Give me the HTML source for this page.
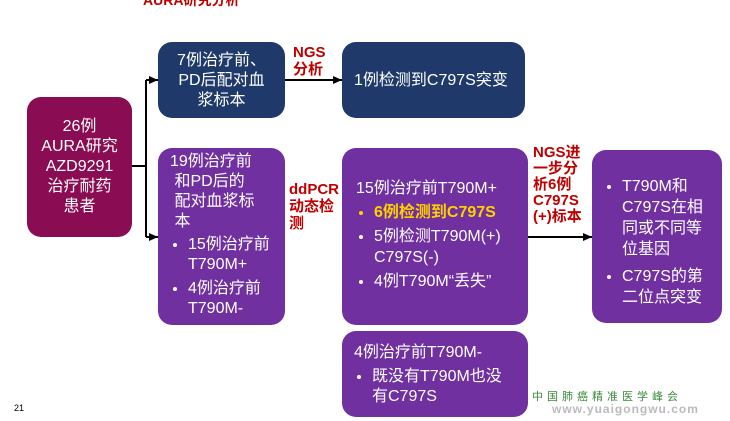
<!DOCTYPE html>
<html><head><meta charset="utf-8"><style>
body{margin:0;width:730px;height:421px;background:#fff;position:relative;overflow:hidden;font-family:"Liberation Sans","Noto Sans CJK SC",sans-serif;}
.b{position:absolute;border-radius:14px;color:#fff;font-size:16px;line-height:20px;box-sizing:border-box;}
.n{background:#1f3a6a;}
.p{background:#7030a0;}
.m{background:#8a0c52;}
.r{position:absolute;color:#c00000;font-weight:bold;font-size:14px;line-height:17px;}
ul{margin:0;padding:0 0 0 18px;}
li{margin:0;}
</style></head><body>
<div style="position:absolute;left:143px;top:-10px;width:160px;height:14px;color:#c00000;font-weight:bold;font-size:14px;">AURA研究分析</div>
<svg width="730" height="421" style="position:absolute;left:0;top:0">
<defs><marker id="a" markerUnits="userSpaceOnUse" markerWidth="9" markerHeight="8" refX="9" refY="4" orient="auto"><path d="M0,0 L9,4 L0,8z" fill="#000"/></marker></defs>
<g stroke="#000" stroke-width="2" fill="none">
<line x1="132" y1="166" x2="146" y2="166"/>
<line x1="146" y1="80" x2="146" y2="237"/>
<line x1="146" y1="80" x2="158" y2="80" marker-end="url(#a)"/>
<line x1="146" y1="237" x2="158" y2="237" marker-end="url(#a)"/>
<line x1="285" y1="80" x2="342" y2="80" marker-end="url(#a)"/>
<line x1="528" y1="237" x2="592" y2="237" marker-end="url(#a)"/>
</g></svg>
<div class="b m" style="left:27px;top:97px;width:105px;height:140px;text-align:center;padding-top:20px;font-size:16px;line-height:20px;">26例<br>AURA研究<br>AZD9291<br>治疗耐药<br>患者</div>
<div class="b n" style="left:158px;top:42px;width:127px;height:76px;text-align:center;padding-top:9px;font-size:16px;">7例治疗前、<br>PD后配对血<br>浆标本</div>
<div class="b n" style="left:342px;top:42px;width:183px;height:76px;padding:29px 0 0 12px;font-size:16px;">1例检测到C797S突变</div>
<div class="b p" style="left:158px;top:148px;width:127px;height:177px;padding:4px 4px 0 12px;">19例治疗前<br>&nbsp;和PD后的<br>&nbsp;配对血浆标<br>&nbsp;本<ul style="margin-top:3px"><li>15例治疗前<br>T790M+</li><li style="margin-top:4px">4例治疗前<br>T790M-</li></ul></div>
<div class="b p" style="left:342px;top:148px;width:186px;height:177px;padding:30px 4px 0 14px;line-height:21px;">15例治疗前T790M+<ul style="margin-top:3px"><li style="color:#ffd000;font-weight:bold;">6例检测到C797S</li><li style="margin-top:3px">5例检测T790M(+)<br>C797S(-)</li><li style="margin-top:3px">4例T790M“丢失”</li></ul></div>
<div class="b p" style="left:592px;top:150px;width:130px;height:173px;padding:26px 4px 0 12px;line-height:21px;"><ul style="padding-left:18px"><li>T790M和<br>C797S在相<br>同或不同等<br>位基因</li><li style="margin-top:6px">C797S的第<br>二位点突变</li></ul></div>
<div class="b p" style="left:342px;top:331px;width:186px;height:86px;padding:12px 4px 0 12px;">4例治疗前T790M-<ul style="margin-top:4px"><li>既没有T790M也没<br>有C797S</li></ul></div>
<div class="r" style="left:293px;top:44px;font-size:15px;">NGS<br>分析</div>
<div class="r" style="left:289px;top:181px;font-size:15px;">ddPCR<br>动态检<br>测</div>
<div class="r" style="left:533px;top:145px;font-size:15px;line-height:16px;">NGS进<br>一步分<br>析6例<br>C797S<br>(+)标本</div>
<div style="position:absolute;left:14px;top:403px;font-size:9px;">21</div>
<div style="position:absolute;left:532px;top:388px;font-size:11px;color:#3b8a3b;letter-spacing:4px;">中国肺癌精准医学峰会</div>
<div style="position:absolute;left:552px;top:402px;font-size:12px;color:#bbb;font-weight:bold;letter-spacing:1px;">www.yuaigongwu.com</div>
</body></html>
